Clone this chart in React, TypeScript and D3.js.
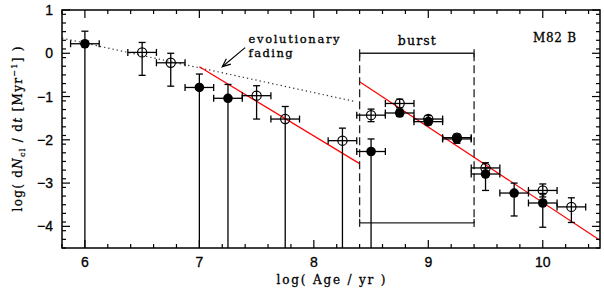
import React from 'react';
import * as d3 from 'd3';

// cluster formation rate vs age, M82 B
const filledAge = [6, 7, 7.25, 8.5, 8.75, 9, 9.25, 9.5, 9.75, 10];
const filledLog = [0.22, -0.79, -1.04, -2.27, -1.38, -1.58, -1.98, -2.79, -3.23, -3.46];
const filledErrUp = [0.29, 0.31, 0.32, 0.29, 0.08, 0.07, 0.08, 0.14, 0.23, 0.22];
const filledErrDn = [Infinity, Infinity, Infinity, Infinity, 0.08, 0.07, 0.1, 0.38, 0.53, 0.56];

const openAge = [6.5, 6.75, 7.5, 7.75, 8.25, 8.5, 8.75, 9, 9.25, 9.5, 10, 10.25];
const openLog = [0.02, -0.22, -0.98, -1.52, -2.02, -1.43, -1.16, -1.52, -1.95, -2.65, -3.17, -3.55];
const openErrUp = [0.23, 0.22, 0.23, 0.29, 0.29, 0.14, 0.1, 0.08, 0.08, 0.12, 0.15, 0.21];
const openErrDn = [0.53, 0.54, 0.54, Infinity, Infinity, 0.15, 0.1, 0.08, 0.08, 0.1, 0.15, 0.36];

const ageErr = 0.125;

const fadingX = [5.8, 8.37];
const fadingY = [0.35, -1.12];
const fit1X = [7.0, 8.4];
const fit1Y = [-0.31, -2.55];
const fit2X = [8.4, 10.5];
const fit2Y = [-0.66, -4.32];

const burstRange = [8.4, 9.4];
const burstTop = 0;
const burstBottom = -3.92;

const xTicks = [6, 7, 8, 9, 10];
const yTicks = [1, 0, -1, -2, -3, -4];

const W = 604;
const H = 290;
const margin = { top: 10, right: 4, bottom: 42, left: 62 };

const x = d3.scaleLinear().domain([5.8, 10.5]).range([margin.left, W - margin.right]);
const y = d3.scaleLinear().domain([-4.5, 1]).range([H - margin.bottom, margin.top]);

const serif = '"DejaVu Serif", serif';
const sans = '"Liberation Sans", Arial, sans-serif';
// slightly heavier strokes, like the plotting package's vector font
const heavy = { stroke: '#000', strokeWidth: 0.3 };

function ErrPoint({ a, v, up, dn, open }: { a: number; v: number; up: number; dn: number; open: boolean }) {
  const cx = x(a);
  const cy = y(v);
  const yTop = y(v + up);
  const yBot = isFinite(dn) ? y(v - dn) : y.range()[0];
  const cap = 3.5;
  return (
    <g stroke="#000" strokeWidth={1.3}>
      <line x1={cx} x2={cx} y1={yTop} y2={yBot} />
      <line x1={cx - cap} x2={cx + cap} y1={yTop} y2={yTop} />
      {isFinite(dn) && <line x1={cx - cap} x2={cx + cap} y1={yBot} y2={yBot} />}
      <line x1={x(a - ageErr)} x2={x(a + ageErr)} y1={cy} y2={cy} />
      <line x1={x(a - ageErr)} x2={x(a - ageErr)} y1={cy - cap} y2={cy + cap} />
      <line x1={x(a + ageErr)} x2={x(a + ageErr)} y1={cy - cap} y2={cy + cap} />
      {open ? (
        <circle cx={cx} cy={cy} r={4.6} fill="none" strokeWidth={1.2} />
      ) : (
        <circle cx={cx} cy={cy} r={4.8} fill="#000" stroke="none" />
      )}
    </g>
  );
}

export default function App() {
  const [x0, x1] = x.range();
  const [y0, y1] = y.range();
  const minorX = d3.range(58, 106, 2).map((d) => d / 10).filter((d) => d % 1 !== 0);
  const minorY = d3.range(-45, 11, 2).map((d) => d / 10).filter((d) => Math.abs(d % 1) > 1e-6);
  const line = d3.line<[number, number]>().x((d) => x(d[0])).y((d) => y(d[1]));

  // arrow for the fading note
  const tail: [number, number] = [x(7.4), y(0.13)];
  const tip: [number, number] = [x(7.2), y(-0.31)];
  const ang = Math.atan2(tip[1] - tail[1], tip[0] - tail[0]);
  const head = [ang + Math.PI - 0.4, ang + Math.PI + 0.4].map((t) => [tip[0] + 9 * Math.cos(t), tip[1] + 9 * Math.sin(t)]);

  return (
    <svg width={W} height={H} style={{ position: 'absolute', left: 0, top: 0, background: '#fff' }}>
      {/* fits */}
      <path d={line(fadingX.map((d, i) => [d, fadingY[i]]) as any) || ''} stroke="#333" strokeWidth={1.2} strokeDasharray="1.3,3" fill="none" />
      <path d={line(fit1X.map((d, i) => [d, fit1Y[i]]) as any) || ''} stroke="#ff0000" strokeWidth={1.2} fill="none" />
      <path d={line(fit2X.map((d, i) => [d, fit2Y[i]]) as any) || ''} stroke="#ff0000" strokeWidth={1.2} fill="none" />

      {/* burst markers */}
      <g stroke="#222" strokeWidth={1.3}>
        {burstRange.map((b) => (
          <line key={b} x1={x(b)} x2={x(b)} y1={y(burstTop)} y2={y(burstBottom)} strokeDasharray="8,4" />
        ))}
        {[burstTop, burstBottom].map((b) => (
          <g key={b}>
            <line x1={x(burstRange[0])} x2={x(burstRange[1])} y1={y(b)} y2={y(b)} />
            <line x1={x(burstRange[0])} x2={x(burstRange[0])} y1={y(b) - 4} y2={y(b) + 4} />
            <line x1={x(burstRange[1])} x2={x(burstRange[1])} y1={y(b) - 4} y2={y(b) + 4} />
          </g>
        ))}
      </g>
      <text {...heavy} x={x((burstRange[0] + burstRange[1]) / 2)} y={y(burstTop) - 8} textAnchor="middle" fontFamily={serif} fontSize={12.5} textLength={38} lengthAdjust="spacing">
        burst
      </text>

      {/* points */}
      {openAge.map((a, i) => (
        <ErrPoint key={'o' + i} a={a} v={openLog[i]} up={openErrUp[i]} dn={openErrDn[i]} open />
      ))}
      {filledAge.map((a, i) => (
        <ErrPoint key={'f' + i} a={a} v={filledLog[i]} up={filledErrUp[i]} dn={filledErrDn[i]} open={false} />
      ))}

      {/* annotation */}
      <g stroke="#000" strokeWidth={1.2} fill="none">
        <line x1={tail[0]} y1={tail[1]} x2={tip[0]} y2={tip[1]} />
        <polyline points={`${head[0][0]},${head[0][1]} ${tip[0]},${tip[1]} ${head[1][0]},${head[1][1]}`} />
      </g>
      <text {...heavy} fontFamily={serif} fontSize={11.5} x={x(7.43)} y={43} textLength={91} lengthAdjust="spacing">
        evolutionary
      </text>
      <text {...heavy} fontFamily={serif} fontSize={11.5} x={x(7.43)} y={56.5} textLength={44} lengthAdjust="spacing">
        fading
      </text>
      <text {...heavy} fontFamily={serif} fontSize={12} x={533} y={42} textLength={43} lengthAdjust="spacing">
        M82 B
      </text>

      {/* frame and ticks */}
      <rect x={x0} y={y1} width={x1 - x0} height={y0 - y1} fill="none" stroke="#000" strokeWidth={1.5} />
      <g stroke="#000" strokeWidth={1.2}>
        {xTicks.map((t) => (
          <g key={'xt' + t}>
            <line x1={x(t)} x2={x(t)} y1={y0} y2={y0 - 8} />
            <line x1={x(t)} x2={x(t)} y1={y1} y2={y1 + 8} />
          </g>
        ))}
        {minorX.map((t) => (
          <g key={'xm' + t}>
            <line x1={x(t)} x2={x(t)} y1={y0} y2={y0 - 4} />
            <line x1={x(t)} x2={x(t)} y1={y1} y2={y1 + 4} />
          </g>
        ))}
        {yTicks.map((t) => (
          <g key={'yt' + t}>
            <line x1={x0} x2={x0 + 8} y1={y(t)} y2={y(t)} />
            <line x1={x1} x2={x1 - 8} y1={y(t)} y2={y(t)} />
          </g>
        ))}
        {minorY.map((t) => (
          <g key={'ym' + t}>
            <line x1={x0} x2={x0 + 4} y1={y(t)} y2={y(t)} />
            <line x1={x1} x2={x1 - 4} y1={y(t)} y2={y(t)} />
          </g>
        ))}
      </g>
      {xTicks.map((t) => (
        <text key={'xl' + t} {...heavy} x={x(t)} y={y0 + 19} textAnchor="middle" fontFamily={sans} fontSize={14}>
          {t}
        </text>
      ))}
      {yTicks.map((t) => (
        <text key={'yl' + t} {...heavy} x={x0 - 9} y={y(t) + 5} textAnchor="end" fontFamily={sans} fontSize={14}>
          {t < 0 ? '\u2212' + Math.abs(t) : t}
        </text>
      ))}

      {/* axis titles */}
      <text {...heavy} x={(x0 + x1) / 2} y={284} textAnchor="middle" fontFamily={serif} fontSize={12} textLength={109} lengthAdjust="spacing">
        log( Age / yr )
      </text>
      <text {...heavy} transform={`translate(22,${(y0 + y1) / 2}) rotate(-90)`} textAnchor="middle" fontFamily={serif} fontSize={12} textLength={165} lengthAdjust="spacing">
        log( d<tspan fontStyle="italic">N</tspan>
        <tspan fontSize={8} dy={3}>cl</tspan>
        <tspan dy={-3}> / d</tspan>
        <tspan fontStyle="italic">t</tspan> [Myr
        <tspan fontSize={8} dy={-5}>{'\u22121'}</tspan>
        <tspan dy={5}>] )</tspan>
      </text>
    </svg>
  );
}
